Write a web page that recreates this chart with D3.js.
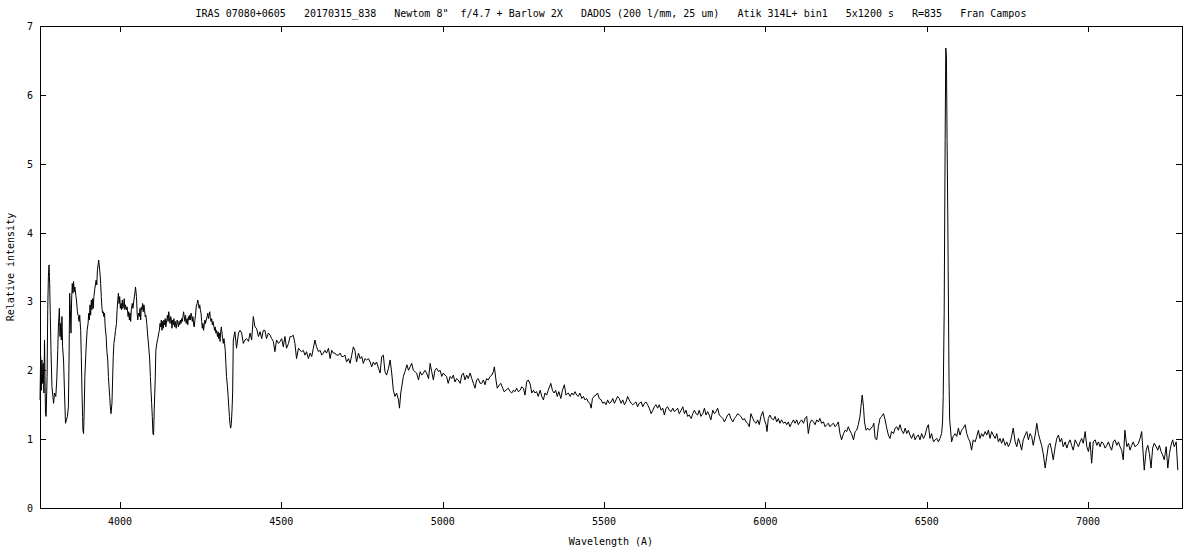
<!DOCTYPE html>
<html>
<head>
<meta charset="utf-8">
<script src="https://cdn.jsdelivr.net/npm/d3@7/dist/d3.min.js"></script>
<style>
  html, body { margin: 0; padding: 0; background: #fff; }
  svg text { font-family: "DejaVu Sans Mono", "Liberation Mono", monospace; font-size: 10px; fill: #000; white-space: pre; }
</style>
</head>
<body>
<svg id="chart" width="1200" height="550"></svg>
<script>
const titleText = 'IRAS 07080+0605   20170315_838   Newtom 8"  f/4.7 + Barlow 2X   DADOS (200 l/mm, 25 um)   Atik 314L+ bin1   5x1200 s   R=835   Fran Campos';
const xLabel = "Wavelength (A)";
const yLabel = "Relative intensity";
const xDomain = [3752, 7291];
const yDomain = [0, 7];
const xTicks = [4000, 4500, 5000, 5500, 6000, 6500, 7000];
const yTicks = [0, 1, 2, 3, 4, 5, 6, 7];

// [wavelength (A), relative intensity]
const spectrum = [
[3752,1.57],[3754,2.20],[3756,1.71],[3758,2.15],[3760,1.81],[3762,2.10],[3764,1.67],[3766,2.44],
[3769,1.37],[3771,1.33],[3774,1.91],[3776,2.88],[3778,3.36],[3780,3.53],[3782,3.26],[3784,2.78],[3786,2.29],[3789,1.76],[3792,1.62],[3794,1.52],[3797,1.67],
[3801,1.62],[3804,1.86],[3807,2.29],[3809,2.63],[3812,2.90],[3814,2.49],[3816,2.68],[3818,2.44],[3820,2.78],[3822,2.34],[3825,2.15],[3828,1.67],
[3831,1.23],[3834,1.28],[3837,1.33],[3840,1.47],[3842,2.15],[3844,3.12],[3846,2.88],[3848,2.54],[3850,3.02],[3852,3.26],[3854,3.12],[3856,3.29],[3858,3.14],[3860,3.21],
[3863,3.09],[3865,3.02],[3868,2.85],[3871,2.78],[3873,2.71],[3875,2.80],[3878,2.58],[3880,2.20],[3882,1.71],[3884,1.33],[3885,1.13],[3887,1.08],[3889,1.42],[3891,1.91],
[3895,2.34],[3898,2.58],[3901,2.68],[3903,2.83],[3905,2.73],[3907,2.95],[3909,2.80],[3911,3.02],[3913,2.88],[3915,3.04],[3917,2.90],[3919,3.07],[3922,3.19],
[3926,3.31],[3928,3.24],[3930,3.46],[3932,3.53],[3934,3.60],[3936,3.50],[3938,3.41],[3940,3.26],[3942,3.07],[3944,2.90],[3946,2.83],[3948,2.85],[3950,2.78],[3952,2.83],[3954,2.63],
[3957,2.49],[3959,2.29],[3962,2.15],[3964,1.91],[3966,1.76],[3968,1.62],[3970,1.47],[3972,1.37],[3975,1.52],[3977,1.86],[3979,2.20],[3981,2.39],[3984,2.49],[3986,2.58],
[3989,2.68],[3991,2.88],[3993,3.02],[3995,3.12],[3997,2.97],[3999,3.07],[4001,2.90],[4003,2.97],[4005,2.88],[4007,3.02],[4009,2.90],[4011,2.95],[4013,3.04],[4015,2.88],[4017,2.95],
[4020,2.88],[4022,2.92],[4025,2.78],[4027,2.85],[4029,2.73],[4031,2.83],[4033,2.71],[4035,2.88],[4038,2.97],[4040,2.90],[4043,3.02],[4046,3.12],[4048,3.21],
[4051,3.07],[4053,2.83],[4055,2.73],[4057,2.83],[4060,2.78],[4062,2.90],[4064,2.73],[4066,2.92],[4068,2.88],[4070,2.97],[4072,2.85],[4074,2.95],[4076,2.88],[4078,2.78],[4080,2.80],
[4083,2.68],[4085,2.54],[4087,2.44],[4089,2.34],[4092,2.15],[4094,1.91],[4096,1.71],[4098,1.52],[4100,1.33],[4102,1.08],[4104,1.06],[4106,1.42],[4109,1.86],[4111,2.29],
[4114,2.39],[4117,2.46],[4120,2.54],[4122,2.58],[4124,2.68],[4126,2.63],[4128,2.73],[4130,2.58],[4132,2.71],[4134,2.61],[4136,2.73],[4138,2.66],[4140,2.75],[4142,2.63],
[4145,2.73],[4147,2.80],[4149,2.71],[4151,2.85],[4153,2.75],[4155,2.68],[4157,2.78],[4159,2.73],[4161,2.61],[4163,2.73],[4165,2.66],[4167,2.75],[4169,2.63],[4171,2.71],[4174,2.61],
[4177,2.73],[4179,2.68],[4181,2.63],[4183,2.71],[4185,2.66],[4187,2.73],[4189,2.68],[4191,2.75],[4193,2.71],[4195,2.78],[4197,2.85],[4199,2.78],[4201,2.71],[4203,2.80],[4205,2.68],
[4208,2.75],[4210,2.66],[4212,2.78],[4214,2.73],[4216,2.80],[4218,2.73],[4220,2.83],[4222,2.78],[4224,2.71],[4226,2.78],[4228,2.66],[4230,2.63],[4232,2.73],[4234,2.80],[4236,2.92],
[4239,2.97],[4241,3.02],[4243,2.97],[4245,2.90],[4247,2.95],[4249,2.88],[4251,2.83],[4253,2.71],[4255,2.61],[4257,2.68],[4259,2.58],[4261,2.66],[4263,2.73],[4265,2.68],[4267,2.73],
[4270,2.78],[4272,2.83],[4274,2.75],[4276,2.80],[4278,2.85],[4280,2.75],[4282,2.71],[4284,2.75],[4286,2.66],[4288,2.71],[4291,2.63],[4293,2.58],[4295,2.63],[4297,2.54],[4299,2.58],
[4302,2.49],[4304,2.56],[4306,2.46],[4308,2.54],[4310,2.42],[4312,2.56],[4314,2.63],[4316,2.54],[4318,2.46],[4320,2.39],[4322,2.46],[4324,2.39],[4326,2.29],[4328,2.10],[4330,1.91],
[4333,1.76],[4335,1.62],[4337,1.47],[4339,1.33],[4341,1.21],[4343,1.16],[4345,1.23],[4347,1.42],[4349,1.67],
[4351,2.44],[4356,2.56],[4361,2.32],[4367,2.54],[4372,2.58],[4377,2.54],[4382,2.39],[4387,2.44],[4392,2.46],[4398,2.42],[4403,2.54],[4408,2.44],[4413,2.78],[4418,2.63],[4423,2.61],[4429,2.49],[4434,2.56],[4439,2.46],[4444,2.58],[4449,2.58],[4454,2.46],[4460,2.54],[4465,2.51],[4470,2.46],[4475,2.42],[4480,2.27],[4485,2.44],[4491,2.39],[4496,2.42],[4501,2.46],[4506,2.34],[4511,2.49],[4516,2.32],[4522,2.39],[4527,2.49],[4532,2.49],[4537,2.51],[4542,2.39],[4547,2.17],[4553,2.32],[4558,2.29],[4563,2.27],[4568,2.29],[4573,2.22],[4578,2.27],[4584,2.17],[4589,2.25],[4594,2.20],[4599,2.32],[4604,2.44],[4609,2.34],[4615,2.27],[4620,2.29],[4625,2.22],[4630,2.25],[4635,2.29],[4640,2.25],[4646,2.32],[4651,2.17],[4656,2.29],[4661,2.25],[4666,2.25],[4671,2.22],[4677,2.22],[4682,2.25],[4687,2.20],[4692,2.20],[4697,2.22],[4702,2.12],[4708,2.17],[4713,2.10],[4718,2.22],[4723,2.34],[4728,2.29],[4733,2.12],[4739,2.25],[4744,2.17],[4749,2.20],[4754,2.10],[4759,2.17],[4764,2.15],[4770,2.17],[4775,2.12],[4780,2.05],[4785,2.12],[4790,2.08],[4795,2.12],[4801,2.03],[4806,1.96],[4811,2.20],[4816,2.22],[4821,1.98],[4826,1.93],[4832,2.03],[4837,2.15],[4842,1.96],[4847,1.71],[4852,1.62],[4857,1.67],[4863,1.57],[4866,1.45],[4870,1.67],[4873,1.76],[4878,1.91],[4883,1.98],[4889,2.08],[4894,2.00],[4899,2.05],[4904,2.10],[4909,2.00],[4914,1.98],[4919,1.96],[4925,1.86],[4930,1.98],[4935,1.93],[4940,1.96],[4945,2.00],[4950,1.96],[4956,1.88],[4961,2.10],[4966,1.98],[4971,1.86],[4976,2.00],[4981,2.03],[4987,1.98],[4992,2.00],[4997,1.91],[5002,1.96],[5007,1.93],[5012,1.91],[5017,1.81],[5023,1.91],[5028,1.88],[5033,1.93],[5038,1.83],[5043,1.88],[5048,1.86],[5054,1.81],[5059,1.93],[5064,1.96],[5069,1.86],[5074,1.93],[5079,1.88],[5085,1.96],[5090,1.88],[5095,1.81],[5100,1.74],[5105,1.86],[5110,1.88],[5116,1.81],[5121,1.81],[5126,1.86],[5131,1.79],[5136,1.88],[5141,1.86],[5147,1.91],[5152,1.93],[5157,1.98],[5160,2.05],[5165,1.86],[5169,1.74],[5176,1.79],[5180,1.81],[5186,1.74],[5190,1.69],[5196,1.71],[5203,1.74],[5209,1.69],[5214,1.67],[5219,1.71],[5224,1.69],[5229,1.74],[5234,1.69],[5240,1.71],[5245,1.76],[5250,1.74],[5255,1.64],[5260,1.83],[5265,1.86],[5271,1.80],
[5276,1.67],[5281,1.71],[5286,1.67],[5291,1.69],[5296,1.62],[5302,1.71],[5307,1.62],[5312,1.57],[5317,1.67],[5322,1.64],[5327,1.71],[5335,1.81],[5340,1.71],[5345,1.67],[5350,1.71],[5355,1.62],[5360,1.69],[5366,1.59],[5371,1.71],[5377,1.79],[5382,1.64],[5389,1.67],[5395,1.62],[5400,1.67],[5405,1.64],[5410,1.69],[5415,1.64],[5420,1.62],[5425,1.67],[5431,1.59],[5436,1.62],[5441,1.57],[5446,1.59],[5451,1.54],[5456,1.52],[5460,1.45],[5464,1.59],[5469,1.62],[5475,1.64],[5480,1.67],[5485,1.59],[5491,1.57],[5496,1.52],[5501,1.54],[5506,1.50],[5511,1.57],[5516,1.52],[5522,1.54],[5527,1.59],[5532,1.52],[5537,1.57],[5542,1.62],[5547,1.59],[5553,1.52],[5558,1.57],[5563,1.50],[5568,1.54],[5573,1.62],[5578,1.57],[5584,1.52],[5589,1.50],[5594,1.52],[5599,1.54],[5604,1.47],[5609,1.52],[5615,1.54],[5620,1.47],[5625,1.52],[5630,1.54],[5635,1.50],[5640,1.45],[5646,1.37],[5651,1.42],[5656,1.47],[5661,1.50],[5666,1.45],[5671,1.50],[5677,1.42],[5682,1.45],[5687,1.35],[5692,1.45],[5697,1.47],[5702,1.42],[5708,1.40],[5713,1.45],[5718,1.40],[5723,1.42],[5728,1.45],[5733,1.37],[5739,1.42],[5744,1.47],[5749,1.37],[5754,1.42],[5759,1.33],[5764,1.35],[5770,1.30],[5775,1.37],[5780,1.42],[5785,1.37],[5790,1.35],[5795,1.42],[5800,1.33],[5806,1.37],[5811,1.45],[5816,1.35],[5821,1.40],[5826,1.35],[5831,1.28],[5837,1.42],[5842,1.37],[5847,1.40],[5852,1.45],[5857,1.35],[5862,1.33],[5868,1.30],[5873,1.25],[5878,1.30],[5883,1.35],[5888,1.37],[5893,1.30],[5899,1.25],[5904,1.30],[5909,1.33],[5914,1.37],[5919,1.35],[5924,1.33],[5930,1.28],[5935,1.30],[5940,1.25],[5945,1.23],[5950,1.18],[5955,1.37],[5961,1.30],[5966,1.25],[5971,1.23],[5976,1.28],[5981,1.21],[5986,1.33],[5992,1.40],[5997,1.28],[6002,1.21],[6005,1.11],[6009,1.30],[6014,1.35],[6019,1.30],[6025,1.28],[6030,1.33],[6035,1.25],[6040,1.30],[6045,1.23],[6050,1.28],[6056,1.23],[6061,1.25],[6066,1.21],[6071,1.25],[6076,1.18],[6081,1.23],[6087,1.28],[6092,1.23],[6097,1.28],[6102,1.21],[6107,1.25],[6112,1.28],[6118,1.23],[6123,1.30],[6128,1.33],[6133,1.08],[6138,1.23],[6143,1.28],[6149,1.25],[6154,1.21],[6159,1.28],[6164,1.25],[6169,1.30],[6174,1.23],[6180,1.25],[6185,1.18],[6190,1.21],[6195,1.23],[6200,1.18],[6205,1.21],[6211,1.23],[6216,1.18],[6221,1.21],[6226,1.25],[6231,1.08],[6236,0.99],[6242,1.08],[6247,1.13],[6252,1.11],[6257,1.18],[6262,1.12],
[6267,1.08],[6273,0.99],[6278,1.11],[6283,1.13],[6288,1.21],[6293,1.33],[6296,1.47],[6300,1.64],[6304,1.47],[6307,1.25],[6312,1.13],[6317,1.16],[6322,1.13],[6327,1.16],[6332,1.18],[6336,1.23],[6340,1.01],[6345,0.99],[6350,1.18],[6355,1.30],[6360,1.33],[6366,1.37],[6371,1.28],[6376,1.16],[6381,1.06],[6386,1.01],[6391,1.11],[6397,1.08],[6402,1.16],[6407,1.18],[6412,1.13],[6417,1.21],[6422,1.13],[6428,1.08],[6433,1.16],[6438,1.08],[6443,1.13],[6448,1.06],[6453,1.01],[6459,1.08],[6464,0.99],[6469,1.04],[6474,1.06],[6479,0.99],[6484,1.08],[6490,1.01],[6495,1.06],[6500,1.16],[6505,1.21],[6510,1.01],[6515,1.08],[6521,0.96],[6526,0.99],[6531,1.01],[6536,0.96],[6541,1.01],[6546,1.08],[6549,1.25],[6551,1.62],[6554,2.83],[6557,5.34],[6559,6.68],[6561,6.55],[6563,5.34],[6565,4.33],[6569,1.86],[6571,1.28],[6577,0.96],[6582,1.04],[6588,1.08],[6593,1.04],[6598,1.16],[6603,1.06],[6608,1.13],[6613,1.16],[6619,1.21],[6624,1.08],[6629,1.01],[6634,0.96],[6639,0.84],[6644,0.99],[6650,0.96],[6655,1.04],[6660,1.13],[6665,1.01],[6670,1.08],[6675,1.04],[6681,1.11],[6686,1.06],[6691,1.13],[6696,1.01],[6701,1.11],[6706,1.06],[6712,1.01],[6717,1.08],[6722,0.96],[6727,1.01],[6732,0.94],[6737,1.01],[6743,0.91],[6748,0.96],[6753,0.89],[6758,0.94],[6763,1.04],[6768,1.16],[6774,0.96],[6779,0.89],[6784,1.01],[6789,0.94],[6794,0.84],[6799,0.99],[6805,1.06],[6810,1.11],[6815,0.99],[6820,1.08],[6825,1.04],[6830,0.91],[6836,1.06],[6841,1.23],[6846,1.08],[6851,0.99],[6856,0.91],[6861,0.79],[6867,0.58],[6872,0.75],[6877,0.91],[6882,0.94],[6887,0.84],[6892,0.70],[6898,0.89],[6903,1.01],[6908,1.06],[6913,0.96],[6918,1.01],[6923,0.89],[6929,0.96],[6934,0.87],[6939,0.94],[6944,0.99],[6949,0.91],[6954,0.84],[6960,0.99],[6965,0.94],[6970,0.89],[6975,0.96],[6980,1.01],[6985,0.94],[6991,1.11],[6996,0.89],[7001,0.82],[7006,0.96],[7011,0.65],[7016,0.96],[7022,0.99],[7027,0.91],[7032,0.96],[7037,0.89],[7042,0.96],[7047,0.94],[7053,0.87],[7058,0.91],[7063,0.96],[7068,0.89],[7073,0.84],[7078,0.96],[7083,0.99],[7089,0.91],[7094,0.96],[7099,0.89],[7104,0.84],[7109,0.70],[7114,1.13],[7120,0.89],[7125,0.94],[7130,0.84],[7135,0.91],[7140,0.96],[7145,0.89],[7151,0.91],[7156,0.94],[7161,1.01],[7166,1.11],[7171,0.77],[7174,0.55],[7180,0.84],[7185,0.91],[7190,0.79],[7195,0.58],[7200,0.87],[7205,0.94],[7211,0.89],[7216,0.84],[7221,0.91],[7226,0.82],[7231,0.77],[7236,0.70],[7242,0.89],[7247,0.58],[7252,0.79],[7257,0.91],[7262,0.99],[7267,0.89],[7273,0.96],[7278,0.55]
];

const W = 1200, H = 550;
const margin = { left: 40, right: 18, top: 26, bottom: 42 };
const svg = d3.select("#chart");

const x = d3.scaleLinear().domain(xDomain).range([margin.left, W - margin.right]);
const y = d3.scaleLinear().domain(yDomain).range([H - margin.bottom, margin.top]);
const x0 = margin.left, x1 = W - margin.right, y0 = H - margin.bottom, y1 = margin.top;
const tickLen = 6;

const axes = svg.append("g").attr("shape-rendering", "crispEdges").attr("stroke", "#000").attr("stroke-width", 1);

// ticks (inward, mirrored)
xTicks.forEach(t => {
  const px = Math.round(x(t)) + 0.5;
  axes.append("line").attr("x1", px).attr("x2", px).attr("y1", y0).attr("y2", y0 - tickLen);
  axes.append("line").attr("x1", px).attr("x2", px).attr("y1", y1).attr("y2", y1 + tickLen);
});
yTicks.forEach(t => {
  const py = Math.round(y(t)) + 0.5;
  axes.append("line").attr("x1", x0).attr("x2", x0 + tickLen).attr("y1", py).attr("y2", py);
  axes.append("line").attr("x1", x1).attr("x2", x1 - tickLen).attr("y1", py).attr("y2", py);
});

// spectrum line
const line = d3.line().x(d => x(d[0])).y(d => y(d[1]));
svg.append("path")
  .datum(spectrum)
  .attr("d", line)
  .attr("fill", "none")
  .attr("stroke", "#000")
  .attr("stroke-width", 1)
  .attr("stroke-linejoin", "miter");

// border
axes.append("rect")
  .attr("x", x0 + 0.5).attr("y", y1 + 0.5)
  .attr("width", x1 - x0).attr("height", y0 - y1)
  .attr("fill", "none");

// tick labels
const labels = svg.append("g");
xTicks.forEach(t => {
  labels.append("text").attr("x", x(t)).attr("y", y0 + 17).attr("text-anchor", "middle").text(t);
});
yTicks.forEach(t => {
  labels.append("text").attr("x", x0 - 7).attr("y", y(t) + 4).attr("text-anchor", "end").text(t);
});

// title and axis labels
svg.append("text").attr("x", (x0 + x1) / 2).attr("y", 17).attr("text-anchor", "middle")
  .attr("xml:space", "preserve").text(titleText);
svg.append("text").attr("x", (x0 + x1) / 2).attr("y", 545).attr("text-anchor", "middle").text(xLabel);
svg.append("text").attr("transform", `translate(14, ${(y0 + y1) / 2}) rotate(-90)`)
  .attr("text-anchor", "middle").text(yLabel);
</script>
</body>
</html>
